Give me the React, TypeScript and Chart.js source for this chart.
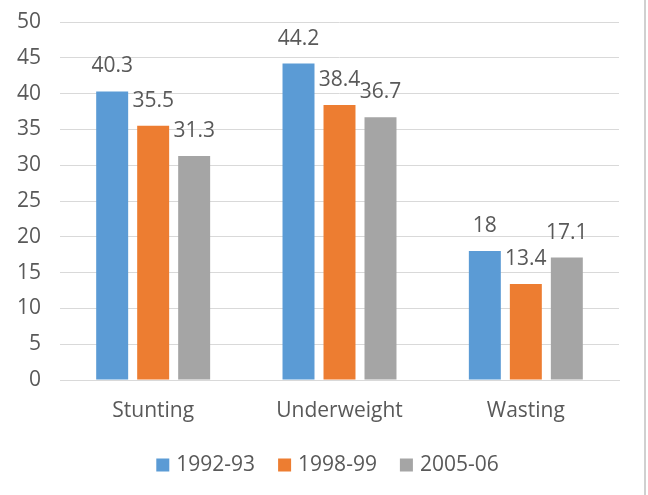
import React, { useEffect, useRef } from "react";
import { Chart, registerables } from "chart.js";

Chart.register(...registerables);

const categories = ["Stunting", "Underweight", "Wasting"];
const seriesLabels = ["1992-93", "1998-99", "2005-06"];
const values1992 = [40.3, 44.2, 18];
const values1998 = [35.5, 38.4, 13.4];
const values2005 = [31.3, 36.7, 17.1];
const seriesColors = ["#5B9BD5", "#ED7D31", "#A5A5A5"];
const yMin = 0;
const yMax = 50;
const yStep = 5;

const FONT = "'Open Sans', 'Liberation Sans', sans-serif";
const TEXT = "#595959";
const GRID = "#D9D9D9";

// Writes each bar's value centred above it
const valueLabels = {
  id: "valueLabels",
  afterDatasetsDraw(chart: any) {
    const ctx = chart.ctx;
    ctx.save();
    ctx.font = `21px ${FONT}`;
    ctx.fillStyle = TEXT;
    ctx.textAlign = "center";
    ctx.textBaseline = "middle";
    chart.data.datasets.forEach((ds: any, di: number) => {
      const meta = chart.getDatasetMeta(di);
      meta.data.forEach((bar: any, i: number) => {
        ctx.fillText(String(ds.data[i]), bar.x, bar.y - 25);
      });
    });
    ctx.restore();
  },
};

// Series key centred under the plot: square swatch, then the series name
const seriesKey = {
  id: "seriesKey",
  afterDraw(chart: any) {
    const ctx = chart.ctx;
    const box = 13;
    const gap = 7;
    const itemGap = 23;
    const cy = 465;
    ctx.save();
    ctx.font = `21px ${FONT}`;
    ctx.textBaseline = "middle";
    ctx.textAlign = "left";
    const items = chart.data.datasets.map((ds: any) => ({
      text: ds.label,
      color: ds.backgroundColor,
      w: ctx.measureText(ds.label).width,
    }));
    const total =
      items.reduce((s: number, it: any) => s + box + gap + it.w, 0) +
      itemGap * (items.length - 1);
    let x = 327.5 - total / 2;
    items.forEach((it: any) => {
      ctx.fillStyle = it.color;
      ctx.fillRect(x, cy - box / 2, box, box);
      x += box + gap;
      ctx.fillStyle = TEXT;
      ctx.fillText(it.text, x, cy);
      x += it.w + itemGap;
    });
    ctx.restore();
  },
};

// Thin frame line along the right edge
const rightEdge = {
  id: "rightEdge",
  beforeDraw(chart: any) {
    const ctx = chart.ctx;
    ctx.save();
    ctx.strokeStyle = "#D0D0D0";
    ctx.lineWidth = 2;
    ctx.beginPath();
    ctx.moveTo(chart.width - 3, 0);
    ctx.lineTo(chart.width - 3, chart.height);
    ctx.stroke();
    ctx.restore();
  },
};

export default function App() {
  const canvasRef = useRef<HTMLCanvasElement | null>(null);

  useEffect(() => {
    document.body.style.margin = "0";
    const canvas = canvasRef.current;
    if (!canvas) return;
    const seriesValues = [values1992, values1998, values2005];
    const chart = new Chart(canvas, {
      type: "bar",
      data: {
        labels: categories,
        datasets: seriesLabels.map((label, i) => ({
          label,
          data: seriesValues[i],
          backgroundColor: seriesColors[i],
          borderWidth: 0,
          categoryPercentage: 0.66,
          barPercentage: 0.78,
        })),
      },
      options: {
        animation: false,
        responsive: false,
        maintainAspectRatio: false,
        layout: { padding: { left: 0, right: 29, top: 22, bottom: 0 } },
        plugins: {
          tooltip: { enabled: false },
          legend: { display: false },
        },
        scales: {
          x: {
            grid: { display: false, drawTicks: false },
            border: { display: true, color: GRID, width: 1 },
            ticks: {
              color: TEXT,
              font: { family: FONT, size: 21 },
              padding: 18,
            },
            afterFit(scale: any) {
              scale.height = 115;
              scale.paddingLeft = 0;
              scale.paddingRight = 0;
            },
          },
          y: {
            min: yMin,
            max: yMax,
            grid: { color: GRID, drawTicks: false },
            border: { display: false },
            ticks: {
              stepSize: yStep,
              color: TEXT,
              font: { family: FONT, size: 21 },
              padding: 19,
            },
            afterFit(scale: any) {
              scale.width = 60;
              scale.paddingTop = 0;
              scale.paddingBottom = 0;
            },
          },
        },
      },
      plugins: [valueLabels, seriesKey, rightEdge],
    });
    return () => chart.destroy();
  }, []);

  return (
    <div style={{ position: "relative", width: 648, height: 495, background: "#fff" }}>
      <canvas ref={canvasRef} width={648} height={495} style={{ display: "block" }} />
    </div>
  );
}
